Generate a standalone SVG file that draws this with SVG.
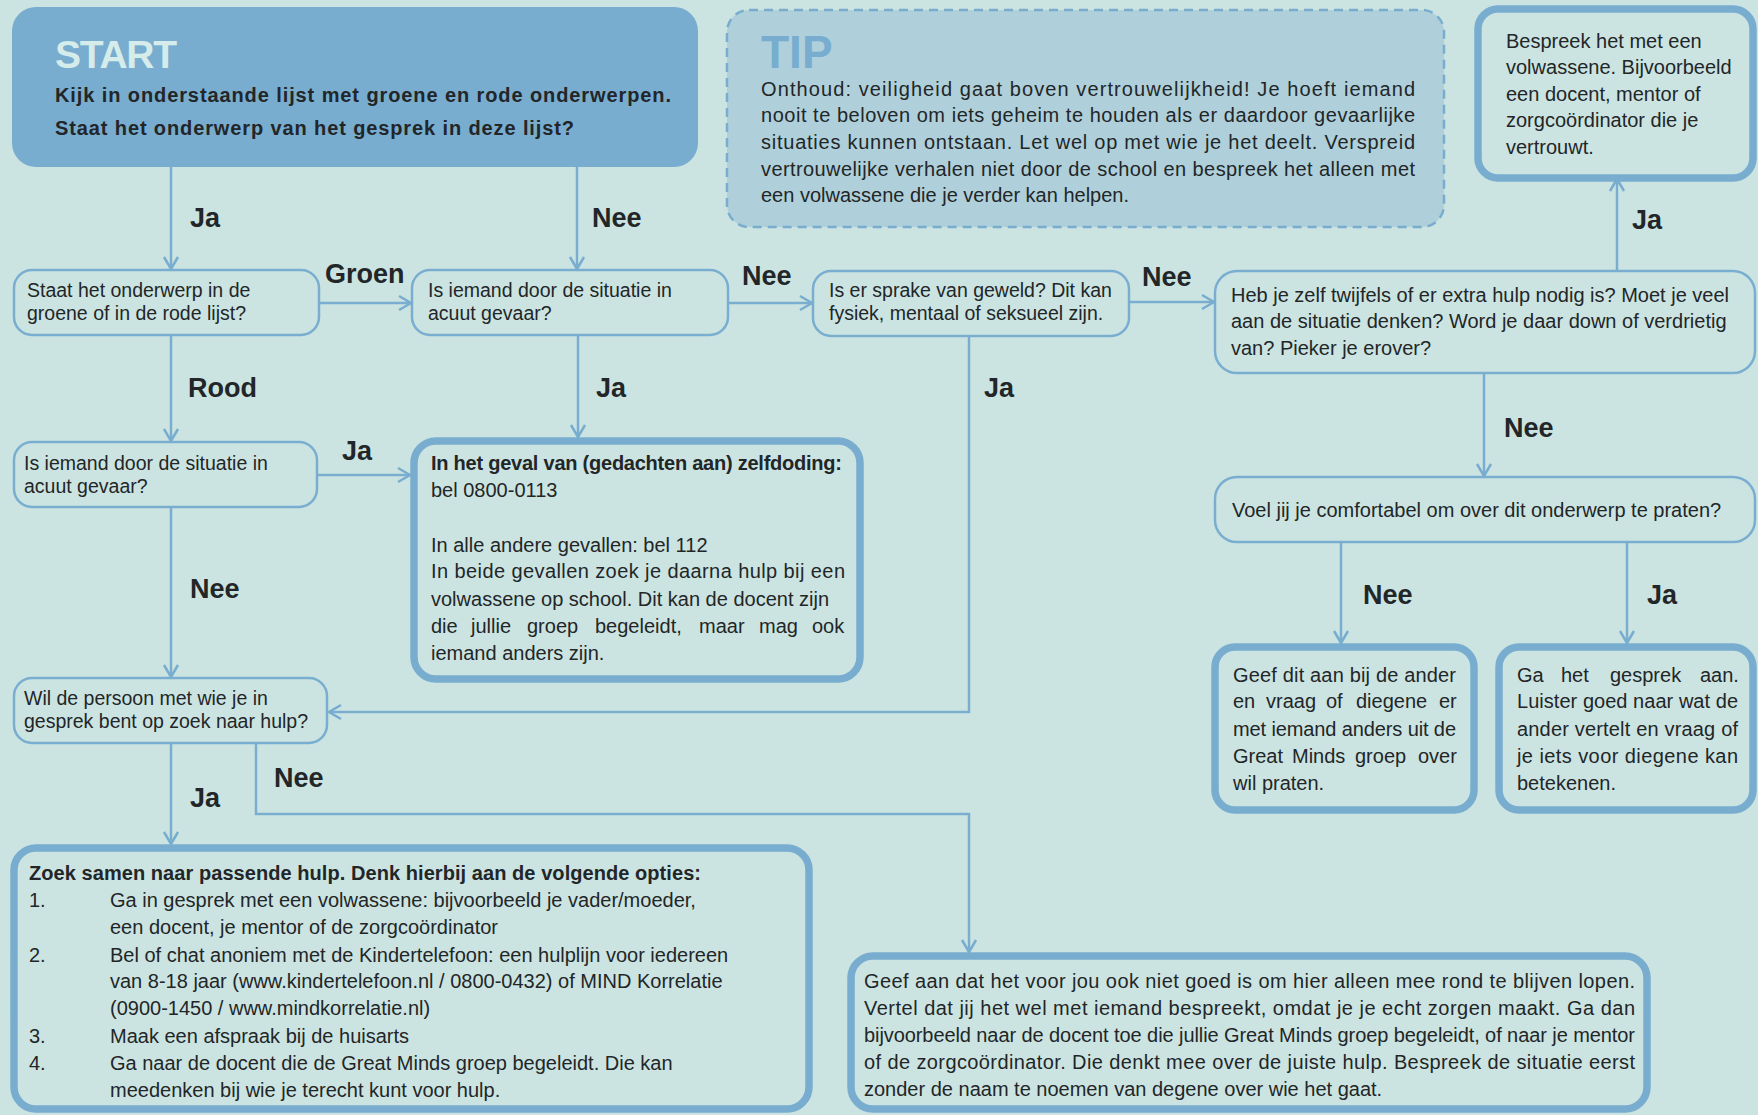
<svg xmlns="http://www.w3.org/2000/svg" width="1758" height="1115" viewBox="0 0 1758 1115">
<defs>
<marker id="arr" markerUnits="userSpaceOnUse" markerWidth="20" markerHeight="20" viewBox="-14 -10 16 20" refX="0" refY="0" orient="auto">
<path d="M-12,-7 L0,0 L-12,7" fill="none" stroke="#78adcf" stroke-width="2.5"/>
</marker>
<style>
.t{font-family:"Liberation Sans",Arial,sans-serif;font-size:20px;fill:#222628}
.s{font-family:"Liberation Sans",Arial,sans-serif;font-size:19.5px;fill:#222628}
.b{font-family:"Liberation Sans",Arial,sans-serif;font-size:20px;font-weight:bold;fill:#222628}
.lbl{font-family:"Liberation Sans",Arial,sans-serif;font-size:27px;font-weight:bold;fill:#222628}
.thin{fill:none;stroke:#7aaed0;stroke-width:2.5}
.thick{fill:none;stroke:#78adcf;stroke-width:7.5}
.edge{fill:none;stroke:#7aaed0;stroke-width:2.5;marker-end:url(#arr)}
</style>
</defs>
<rect width="1758" height="1115" fill="#cce4e1"/>

<g id="start">
<rect x="12" y="7" width="686" height="160" rx="24" fill="#78adcf"/>
<text x="55" y="68" font-family="Liberation Sans,Arial,sans-serif" font-weight="bold" font-size="39" fill="#d5ecea" textLength="122">START</text>
<text class="b" x="55" y="102" textLength="616">Kijk in onderstaande lijst met groene en rode onderwerpen.</text>
<text class="b" x="55" y="135" textLength="519">Staat het onderwerp van het gesprek in deze lijst?</text>
</g>

<g id="tip">
<rect x="727" y="10" width="717" height="217" rx="22" fill="#afd0da" stroke="#78adcf" stroke-width="2.5" stroke-dasharray="9 6"/>
<text x="761" y="68" font-family="Liberation Sans,Arial,sans-serif" font-weight="bold" font-size="46" fill="#78adcf">TIP</text>
<text class="t" x="761" y="96" textLength="654">Onthoud: veiligheid gaat boven vertrouwelijkheid! Je hoeft iemand</text>
<text class="t" x="761" y="122" textLength="654">nooit te beloven om iets geheim te houden als er daardoor gevaarlijke</text>
<text class="t" x="761" y="149" textLength="654">situaties kunnen ontstaan. Let wel op met wie je het deelt. Verspreid</text>
<text class="t" x="761" y="176" textLength="654">vertrouwelijke verhalen niet door de school en bespreek het alleen met</text>
<text class="t" x="761" y="202">een volwassene die je verder kan helpen.</text>
</g>

<g id="bespreek">
<rect x="1478" y="9" width="275" height="169" rx="20" class="thick"/>
<text class="t" x="1506" y="48">Bespreek het met een</text>
<text class="t" x="1506" y="74">volwassene. Bijvoorbeeld</text>
<text class="t" x="1506" y="101">een docent, mentor of</text>
<text class="t" x="1506" y="127">zorgcoördinator die je</text>
<text class="t" x="1506" y="154">vertrouwt.</text>
</g>

<g id="lijst">
<rect x="14" y="270" width="305" height="65" rx="18" class="thin"/>
<text class="s" x="27" y="297">Staat het onderwerp in de</text>
<text class="s" x="27" y="320">groene of in de rode lijst?</text>
</g>

<g id="gevaar1">
<rect x="412" y="270" width="316" height="65" rx="18" class="thin"/>
<text class="s" x="428" y="297">Is iemand door de situatie in</text>
<text class="s" x="428" y="320">acuut gevaar?</text>
</g>

<g id="geweld">
<rect x="813" y="271" width="316" height="65" rx="18" class="thin"/>
<text class="s" x="829" y="297">Is er sprake van geweld? Dit kan</text>
<text class="s" x="829" y="320">fysiek, mentaal of seksueel zijn.</text>
</g>

<g id="twijfels">
<rect x="1215" y="271" width="540" height="102" rx="22" class="thin"/>
<text class="t" x="1231" y="302">Heb je zelf twijfels of er extra hulp nodig is? Moet je veel</text>
<text class="t" x="1231" y="328">aan de situatie denken? Word je daar down of verdrietig</text>
<text class="t" x="1231" y="355">van? Pieker je erover?</text>
</g>

<g id="comfortabel">
<rect x="1215" y="477" width="540" height="65" rx="22" class="thin"/>
<text class="t" x="1232" y="517">Voel jij je comfortabel om over dit onderwerp te praten?</text>
</g>

<g id="gevaar2">
<rect x="14" y="442" width="303" height="65" rx="18" class="thin"/>
<text class="s" x="24" y="470">Is iemand door de situatie in</text>
<text class="s" x="24" y="493">acuut gevaar?</text>
</g>

<g id="hulp">
<rect x="14" y="678" width="313" height="65" rx="18" class="thin"/>
<text class="s" x="24" y="705">Wil de persoon met wie je in</text>
<text class="s" x="24" y="728">gesprek bent op zoek naar hulp?</text>
</g>

<g id="zelfdoding">
<rect x="414" y="441" width="446" height="238" rx="22" class="thick"/>
<text class="b" x="431" y="470" textLength="411">In het geval van (gedachten aan) zelfdoding:</text>
<text class="t" x="431" y="497">bel 0800-0113</text>
<text class="t" x="431" y="552">In alle andere gevallen: bel 112</text>
<text class="t" x="431" y="578" textLength="414">In beide gevallen zoek je daarna hulp bij een</text>
<text class="t" x="431" y="606">volwassene op school. Dit kan de docent zijn</text>
<text class="t" y="633"><tspan x="431">die</tspan><tspan x="471">jullie</tspan><tspan x="527">groep</tspan><tspan x="595">begeleidt,</tspan><tspan x="699">maar</tspan><tspan x="759">mag</tspan><tspan x="812">ook</tspan></text>
<text class="t" x="431" y="660">iemand anders zijn.</text>
</g>

<g id="geefdit">
<rect x="1215" y="647" width="259" height="163" rx="20" class="thick"/>
<text class="t" x="1233" y="682" textLength="223">Geef dit aan bij de ander</text>
<text class="t" y="708"><tspan x="1233">en</tspan><tspan x="1266">vraag</tspan><tspan x="1326">of</tspan><tspan x="1356">diegene</tspan><tspan x="1439">er</tspan></text>
<text class="t" x="1233" y="736" textLength="223">met iemand anders uit de</text>
<text class="t" y="763"><tspan x="1233">Great</tspan><tspan x="1292">Minds</tspan><tspan x="1355">groep</tspan><tspan x="1418">over</tspan></text>
<text class="t" x="1233" y="790">wil praten.</text>
</g>

<g id="gahet">
<rect x="1499" y="647" width="254" height="163" rx="20" class="thick"/>
<text class="t" y="682"><tspan x="1517">Ga</tspan><tspan x="1561">het</tspan><tspan x="1610">gesprek</tspan><tspan x="1700">aan.</tspan></text>
<text class="t" x="1517" y="708" textLength="221">Luister goed naar wat de</text>
<text class="t" x="1517" y="736" textLength="221">ander vertelt en vraag of</text>
<text class="t" x="1517" y="763" textLength="221">je iets voor diegene kan</text>
<text class="t" x="1517" y="790">betekenen.</text>
</g>

<g id="opties">
<rect x="14" y="848" width="795" height="261" rx="22" class="thick"/>
<text class="b" x="29" y="880" textLength="672">Zoek samen naar passende hulp. Denk hierbij aan de volgende opties:</text>
<text class="t" x="29" y="907">1.</text>
<text class="t" x="110" y="907">Ga in gesprek met een volwassene: bijvoorbeeld je vader/moeder,</text>
<text class="t" x="110" y="934">een docent, je mentor of de zorgcoördinator</text>
<text class="t" x="29" y="962">2.</text>
<text class="t" x="110" y="962">Bel of chat anoniem met de Kindertelefoon: een hulplijn voor iedereen</text>
<text class="t" x="110" y="988">van 8-18 jaar (www.kindertelefoon.nl / 0800-0432) of MIND Korrelatie</text>
<text class="t" x="110" y="1015">(0900-1450 / www.mindkorrelatie.nl)</text>
<text class="t" x="29" y="1043">3.</text>
<text class="t" x="110" y="1043">Maak een afspraak bij de huisarts</text>
<text class="t" x="29" y="1070">4.</text>
<text class="t" x="110" y="1070">Ga naar de docent die de Great Minds groep begeleidt. Die kan</text>
<text class="t" x="110" y="1097">meedenken bij wie je terecht kunt voor hulp.</text>
</g>

<g id="alleen">
<rect x="851" y="956" width="796" height="153" rx="22" class="thick"/>
<text class="t" x="864" y="988" textLength="771">Geef aan dat het voor jou ook niet goed is om hier alleen mee rond te blijven lopen.</text>
<text class="t" x="864" y="1015" textLength="771">Vertel dat jij het wel met iemand bespreekt, omdat je je echt zorgen maakt. Ga dan</text>
<text class="t" x="864" y="1042" textLength="771">bijvoorbeeld naar de docent toe die jullie Great Minds groep begeleidt, of naar je mentor</text>
<text class="t" x="864" y="1069" textLength="771">of de zorgcoördinator. Die denkt mee over de juiste hulp. Bespreek de situatie eerst</text>
<text class="t" x="864" y="1096">zonder de naam te noemen van degene over wie het gaat.</text>
</g>

<g id="connectors">
<path class="edge" d="M171,167 V269"/>
<path class="edge" d="M577,167 V269"/>
<path class="edge" d="M319,303 H411"/>
<path class="edge" d="M728,303 H812"/>
<path class="edge" d="M1129,302 H1214"/>
<path class="edge" d="M1617,271 V179"/>
<path class="edge" d="M171,335 V441"/>
<path class="edge" d="M578,335 V437"/>
<path class="edge" d="M317,475 H410"/>
<path class="edge" d="M969,336 V712 H329"/>
<path class="edge" d="M171,507 V677"/>
<path class="edge" d="M1484,373 V476"/>
<path class="edge" d="M1341,542 V643"/>
<path class="edge" d="M1627,542 V643"/>
<path class="edge" d="M171,743 V844"/>
<path class="edge" d="M256,743 V814 H969 V952"/>
<text class="lbl" x="190" y="227">Ja</text>
<text class="lbl" x="592" y="227">Nee</text>
<text class="lbl" x="325" y="283">Groen</text>
<text class="lbl" x="742" y="285">Nee</text>
<text class="lbl" x="1142" y="286">Nee</text>
<text class="lbl" x="1632" y="229">Ja</text>
<text class="lbl" x="188" y="397">Rood</text>
<text class="lbl" x="596" y="397">Ja</text>
<text class="lbl" x="342" y="460">Ja</text>
<text class="lbl" x="984" y="397">Ja</text>
<text class="lbl" x="190" y="598">Nee</text>
<text class="lbl" x="1504" y="437">Nee</text>
<text class="lbl" x="1363" y="604">Nee</text>
<text class="lbl" x="1647" y="604">Ja</text>
<text class="lbl" x="190" y="807">Ja</text>
<text class="lbl" x="274" y="787">Nee</text>
</g>
</svg>
